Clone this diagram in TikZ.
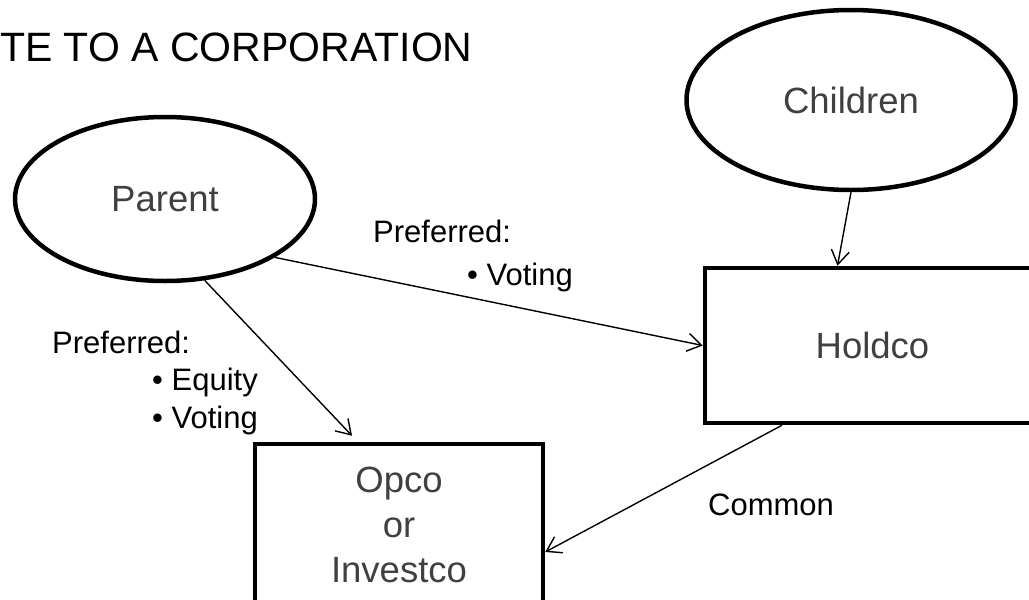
\documentclass[tikz,border=0pt]{standalone}
\usepackage{fontspec}
\setmainfont{Liberation Sans}
\usepackage{tikz}
\usetikzlibrary{arrows.meta,shapes.geometric,calc}
\definecolor{textgray}{HTML}{404040}
\tikzset{
  owner/.style={ellipse,draw=black,line width=4.5pt,minimum width=300pt,minimum height=164pt,align=center,text=textgray,font=\fontsize{36.5}{45}\selectfont},
  company/.style={rectangle,draw=black,line width=4.5pt,align=center,text=textgray,font=\fontsize{36.5}{45}\selectfont},
  share/.style={align=left,inner sep=0pt,anchor=base west,font=\fontsize{31}{37.5}\selectfont},
  arrow/.style={-{Straight Barb[length=14pt,width=18pt]},line width=1.4pt}
}
\begin{document}
\begin{tikzpicture}[x=1pt,y=-1pt]
  \useasboundingbox (0,0) rectangle (1029,600);
  \node[anchor=base west,inner sep=0pt,font=\fontsize{41}{48}\selectfont] (title) at (0,61) {TE TO A CORPORATION};

  \node[owner] (parent) at (165,199) {Parent};
  \node[owner,minimum width=329pt,minimum height=180pt] (children) at (851,100) {Children};
  \node[company,minimum width=335pt,minimum height=155pt] (holdco) at (872.5,345.5) {Holdco};
  \node[company,minimum width=288pt,minimum height=162pt] (opco) at (399,525) {Opco\\or\\Investco};

  \node[share] (prefvoting) at (373,285) {Preferred:\\[5.5pt]\hspace*{94pt}•~Voting};
  \node[share] (prefequity) at (52,428) {Preferred:\\\hspace*{100pt}•~Equity\\\hspace*{100pt}•~Voting};
  \node[share] (common) at (708,515) {Common};

  \draw[arrow] (children.south) -- ([xshift=-35pt]holdco.north);
  \draw[arrow] (parent.-28) -- (holdco.west);
  \draw[arrow] (parent.-64) -- ([xshift=-47pt,yshift=6pt]opco.north);
  \draw[arrow] ([xshift=-90.5pt]holdco.south) -- ([yshift=-27pt]opco.east);
\end{tikzpicture}
\end{document}
